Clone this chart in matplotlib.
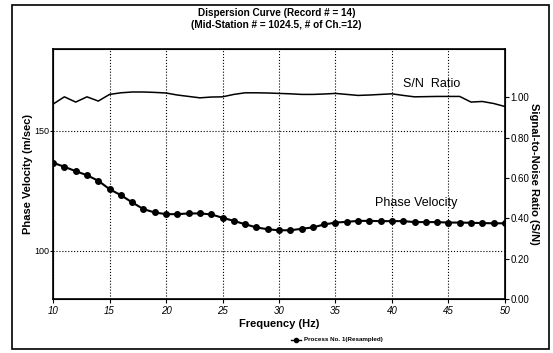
import matplotlib.pyplot as plt
from matplotlib.patches import Rectangle

# data
freq = list(range(10, 51))
phase_vel = [136.7, 135.0, 133.2, 131.5, 129.2, 125.7, 123.2, 120.2, 117.4, 116.0,
             115.3, 115.3, 115.6, 115.6, 115.2, 113.8, 112.5, 111.1, 109.8, 109.0,
             108.6, 108.6, 109.2, 109.8, 111.0, 111.8, 112.1, 112.5, 112.5, 112.4,
             112.4, 112.4, 112.0, 112.0, 112.0, 111.8, 111.8, 111.7, 111.6, 111.5,
             111.5]
sn_ratio = [0.967, 1.003, 0.977, 1.003, 0.982, 1.015, 1.023, 1.027, 1.027, 1.025,
            1.022, 1.012, 1.005, 0.998, 1.002, 1.003, 1.015, 1.023, 1.023, 1.022,
            1.020, 1.018, 1.015, 1.015, 1.017, 1.020, 1.015, 1.010, 1.012, 1.015,
            1.018, 1.010, 1.003, 1.004, 1.005, 1.005, 1.005, 0.977, 0.980, 0.970,
            0.955]
xticks = [10, 15, 20, 25, 30, 35, 40, 45, 50]
left_ticks = [100, 150]
right_ticks = [0.0, 0.2, 0.4, 0.6, 0.8, 1.0]

plt.rcParams['font.family'] = ['Liberation Sans', 'DejaVu Sans']

fig = plt.figure(figsize=(5.53, 3.53), dpi=100)
ax = fig.add_axes([0.096, 0.153, 0.817, 0.708])
ax2 = ax.twinx()

ax.plot(freq, phase_vel, color='black', lw=1.5, marker='o', ms=4, zorder=3)
ax2.plot(freq, sn_ratio, color='black', lw=1.1)

ax.set_xlim(10, 50)
ax.set_ylim(80, 184)
ax2.set_ylim(0, 1.24)

ax.set_xticks(xticks)
ax.set_xticklabels([str(t) for t in xticks], fontsize=7, style='italic')
ax.set_yticks(left_ticks)
ax.set_yticklabels([str(t) for t in left_ticks], fontsize=6.5)
ax2.set_yticks(right_ticks)
ax2.set_yticklabels(['%.2f' % t for t in right_ticks], fontsize=7)
ax.tick_params(axis='x', length=3, width=0.8, pad=2)
ax.tick_params(axis='y', length=2, width=0.8, pad=1)
ax2.tick_params(length=3, width=0.8, pad=1)

ax.grid(True, ls=':', color='black', lw=0.8)

ax.set_xlabel('Frequency (Hz)', fontsize=8, fontweight='bold', labelpad=2)
ax.set_ylabel('Phase Velocity (m/sec)', fontsize=8, fontweight='bold')
ax.yaxis.set_label_coords(-0.045, 0.5)
ax2.set_ylabel('Signal-to-Noise Ratio (S/N)', fontsize=8, fontweight='bold',
               rotation=-90, labelpad=7)

ax.text(38.5, 118.5, 'Phase Velocity', fontsize=9)
ax2.text(41.0, 1.05, 'S/N  Ratio', fontsize=9)

for sp in ax.spines.values():
    sp.set_linewidth(1.2)

fig.text(0.5, 0.963, 'Dispersion Curve (Record # = 14)', ha='center', va='center',
         fontsize=7.2, fontweight='bold')
fig.text(0.5, 0.929, '(Mid-Station # = 1024.5, # of Ch.=12)', ha='center', va='center',
         fontsize=7.2, fontweight='bold')

# legend at bottom: short line with a dot in the middle
fig.lines.append(plt.Line2D([0.527, 0.536, 0.545], [0.037, 0.037, 0.037], color='black',
                            lw=1, marker='o', ms=3, markevery=[1],
                            transform=fig.transFigure))
fig.text(0.55, 0.037, 'Process No. 1(Resampled)', ha='left', va='center',
         fontsize=4.5, fontweight='bold')

# outer frame
fig.patches.append(Rectangle((0.022, 0.012), 0.97, 0.975, fill=False, lw=1.2,
                             edgecolor='black', transform=fig.transFigure))

fig.savefig('out.png', dpi=100)
